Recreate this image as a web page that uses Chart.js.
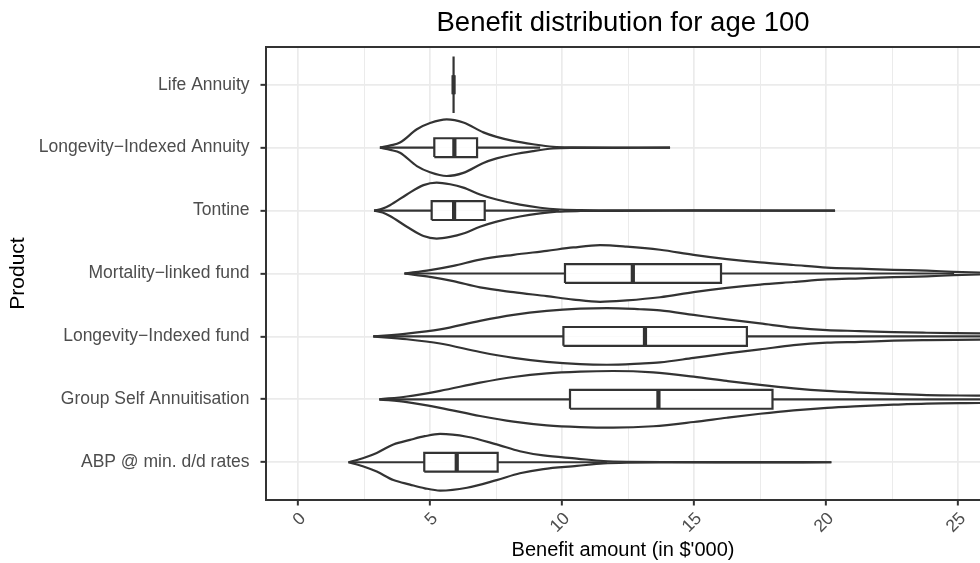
<!DOCTYPE html>
<html>
<head>
<meta charset="utf-8">
<script src="https://cdn.jsdelivr.net/npm/chart.js@4.4.1/dist/chart.umd.min.js"></script>
<style>
  html, body { margin: 0; padding: 0; background: #fff; }
  #wrap { width: 980px; height: 563px; }
</style>
</head>
<body>
<div id="wrap"><canvas id="chart" width="980" height="563"></canvas></div>
<script>
// products, bottom (1) to top (7)
var products = [
  'ABP @ min. d/d rates',
  'Group Self Annuitisation',
  'Longevity\u2212Indexed fund',
  'Mortality\u2212linked fund',
  'Tontine',
  'Longevity\u2212Indexed Annuity',
  'Life Annuity'
];

// x ticks (benefit in $'000)
var majorTicks = [0, 5, 10, 15, 20, 25];
var minorTicks = [2.5, 7.5, 12.5, 17.5, 22.5];

// violin outlines: benefit value and relative density width (peak = 1)
var abpX = [1.91, 2.2, 2.48, 2.98, 3.61, 4.24, 4.8, 5.38, 6.4, 7.52, 8.4, 9.29, 10.56, 11.57, 12.45, 14.0, 17.0, 20.2];
var abpW = [0, 0.07, 0.15, 0.33, 0.63, 0.79, 0.92, 1.0, 0.9, 0.63, 0.39, 0.24, 0.13, 0.04, 0.015, 0.008, 0.005, 0];

var gsaX = [3.08, 4.12, 5.38, 6.89, 8.16, 9.42, 10.68, 11.93, 13.45, 14.98, 16.24, 17.5, 18.77, 20.03, 21.29, 22.55, 23.81, 25.83, 28, 31];
var gsaW = [0, 0.1, 0.3, 0.59, 0.79, 0.92, 0.98, 1.0, 0.95, 0.8, 0.65, 0.51, 0.39, 0.3, 0.24, 0.19, 0.15, 0.13, 0.1, 0.08];

var lifX = [2.85, 4.12, 5.38, 6.89, 8.16, 9.42, 10.68, 11.7, 12.95, 13.71, 14.98, 16.24, 17.5, 18.77, 20.03, 21.29, 22.55, 23.81, 25.83, 28, 31];
var lifW = [0, 0.1, 0.25, 0.55, 0.76, 0.9, 0.98, 1.0, 0.96, 0.92, 0.76, 0.6, 0.46, 0.31, 0.22, 0.19, 0.15, 0.13, 0.11, 0.08, 0.05];

var mlfX = [4.03, 5.0, 5.88, 6.89, 8.16, 9.42, 10.43, 11.44, 12.45, 13.71, 14.98, 16.24, 17.5, 18.77, 20.03, 21.29, 22.55, 23.81, 24.82, 25.83, 27, 29];
var mlfW = [0, 0.12, 0.27, 0.49, 0.66, 0.8, 0.92, 1.0, 0.95, 0.84, 0.66, 0.51, 0.39, 0.3, 0.21, 0.17, 0.13, 0.1, 0.06, 0.03, 0.01, 0];

var tonX = [2.88, 3.2, 3.48, 4.12, 4.75, 5.25, 5.76, 6.26, 6.89, 7.52, 8.4, 9.17, 9.8, 10.7, 12, 15, 20.34];
var tonW = [0, 0.07, 0.19, 0.57, 0.9, 0.99, 0.93, 0.81, 0.57, 0.39, 0.21, 0.1, 0.04, 0.015, 0.008, 0.005, 0];

var liaX = [3.10, 3.5, 3.86, 4.5, 5.0, 5.63, 6.26, 7.02, 7.52, 8.14, 8.9, 9.66, 10.4, 12, 14.09];
var liaW = [0, 0.08, 0.18, 0.65, 0.87, 1.0, 0.89, 0.54, 0.38, 0.24, 0.12, 0.03, 0.01, 0.005, 0];

var laX = [5.89];
var laW = [1];

// boxplot stats, same order as products
var whiskerLow  = [1.91, 3.08, 2.85, 4.03, 2.88, 3.10, 5.89];
var q1          = [4.78, 10.30, 10.05, 10.11, 5.06, 5.16, 5.89];
var median      = [6.01, 13.65, 13.14, 12.68, 5.91, 5.92, 5.89];
var q3          = [7.56, 17.97, 17.00, 16.02, 7.07, 6.78, 5.89];
var whiskerHigh = [11.70, 29.5, 27.4, 24.85, 9.88, 9.17, 5.89];

var violins = [[abpX, abpW], [gsaX, gsaW], [lifX, lifW], [mlfX, mlfW], [tonX, tonW], [liaX, liaW], [laX, laW]];

var INK = '#333333';
var HALF_VIOLIN = 0.45;
var HALF_BOX = 0.15;
var LW = 2.2;
var FONT = "'Liberation Sans', Arial, Helvetica, sans-serif";

function buildDatasets() {
  var sets = [];
  var boxPts = [], medPts = [], whiskPts = [];
  var gap = { x: NaN, y: NaN };

  for (var i = 0; i < products.length; i++) {
    var pos = i + 1;
    boxPts.push({ x: q1[i], y: pos - HALF_BOX }, { x: q3[i], y: pos - HALF_BOX },
                { x: q3[i], y: pos + HALF_BOX }, { x: q1[i], y: pos + HALF_BOX },
                { x: q1[i], y: pos - HALF_BOX }, gap);
    medPts.push({ x: median[i], y: pos - HALF_BOX }, { x: median[i], y: pos + HALF_BOX }, gap);
    whiskPts.push({ x: whiskerLow[i], y: pos }, { x: q1[i], y: pos }, gap,
                  { x: q3[i], y: pos }, { x: whiskerHigh[i], y: pos }, gap);
  }

  sets.push({ data: medPts, borderColor: INK, borderWidth: 4.2, order: 1 });
  sets.push({ data: boxPts, borderColor: INK, borderWidth: LW, order: 1 });
  sets.push({ data: whiskPts, borderColor: INK, borderWidth: LW, order: 1 });

  violins.forEach(function (v, i) {
    var pos = i + 1, xs = v[0], ws = v[1];
    if (xs.length === 1) {
      // degenerate violin: all values equal, drawn as a vertical stroke
      sets.push({ data: [{ x: xs[0], y: pos + ws[0] * HALF_VIOLIN }, { x: xs[0], y: pos - ws[0] * HALF_VIOLIN }],
                  borderColor: INK, borderWidth: LW, order: 2 });
      return;
    }
    var up = xs.map(function (x, k) { return { x: x, y: pos + ws[k] * HALF_VIOLIN }; });
    var lo = xs.map(function (x, k) { return { x: x, y: pos - ws[k] * HALF_VIOLIN }; });
    [up, lo].forEach(function (pts) {
      sets.push({ data: pts, borderColor: INK, borderWidth: LW, backgroundColor: '#ffffff',
                  fill: { value: pos }, cubicInterpolationMode: 'monotone', order: 2 });
    });
  });

  sets.forEach(function (s) { s.showLine = true; s.pointRadius = 0; s.pointHoverRadius = 0; });
  return sets;
}

var panelBorder = {
  id: 'panelBorder',
  afterDatasetsDraw: function (chart) {
    var a = chart.chartArea, ctx = chart.ctx;
    ctx.save();
    ctx.strokeStyle = INK;
    ctx.lineWidth = 2;
    ctx.strokeRect(a.left, a.top, a.right - a.left + 10, a.bottom - a.top);
    ctx.restore();
  }
};

var allTicks = majorTicks.concat(minorTicks).sort(function (a, b) { return a - b; });
function isMajor(v) { return majorTicks.indexOf(v) !== -1; }

new Chart(document.getElementById('chart'), {
  type: 'scatter',
  data: { datasets: buildDatasets() },
  plugins: [panelBorder],
  options: {
    responsive: false,
    animation: false,
    devicePixelRatio: 1,
    layout: { padding: 0 },
    plugins: {
      legend: { display: false },
      tooltip: { enabled: false },
      title: {
        display: true,
        text: 'Benefit distribution for age 100',
        color: '#000',
        fullSize: false,
        font: { family: FONT, size: 27.5, weight: 'normal' },
        padding: { top: 6.5, bottom: 7.5 }
      }
    },
    scales: {
      x: {
        type: 'linear',
        min: -1.215,
        max: 25.83,
        afterBuildTicks: function (axis) {
          axis.ticks = allTicks.map(function (v) { return { value: v }; });
        },
        afterFit: function (s) { s.height = 63; s.paddingLeft = 0; s.paddingRight = 0; },
        border: { display: false },
        grid: {
          color: '#EBEBEB',
          lineWidth: function (c) { return c.tick && isMajor(c.tick.value) ? 1.7 : 1; },
          drawTicks: true,
          tickLength: 5.5,
          tickWidth: 2,
          tickColor: function (c) { return c.tick && isMajor(c.tick.value) ? INK : 'rgba(0,0,0,0)'; }
        },
        ticks: {
          autoSkip: false,
          minRotation: 45,
          maxRotation: 45,
          padding: 3,
          labelOffset: 5,
          color: '#4D4D4D',
          font: { family: FONT, size: 17.5 },
          callback: function (v) { return isMajor(v) ? String(v) : ''; }
        },
        title: {
          display: true,
          text: "Benefit amount (in $'000)",
          color: '#000',
          font: { family: FONT, size: 20 },
          padding: { top: 0, bottom: 1 }
        }
      },
      y: {
        type: 'linear',
        min: 0.4,
        max: 7.6,
        afterBuildTicks: function (axis) {
          axis.ticks = products.map(function (p, i) { return { value: i + 1 }; });
        },
        afterFit: function (s) { s.width = 266; s.paddingTop = 0; s.paddingBottom = 0; },
        border: { display: false },
        grid: {
          color: '#EBEBEB',
          lineWidth: 1.7,
          drawTicks: true,
          tickLength: 5.5,
          tickWidth: 2,
          tickColor: INK
        },
        ticks: {
          padding: 11,
          color: '#4D4D4D',
          font: { family: FONT, size: 17.5 },
          callback: function (v) { return products[v - 1] || ''; }
        },
        title: {
          display: true,
          text: 'Product',
          color: '#000',
          font: { family: FONT, size: 21 },
          padding: { top: 6, bottom: 0 }
        }
      }
    }
  }
});
</script>
</body>
</html>
